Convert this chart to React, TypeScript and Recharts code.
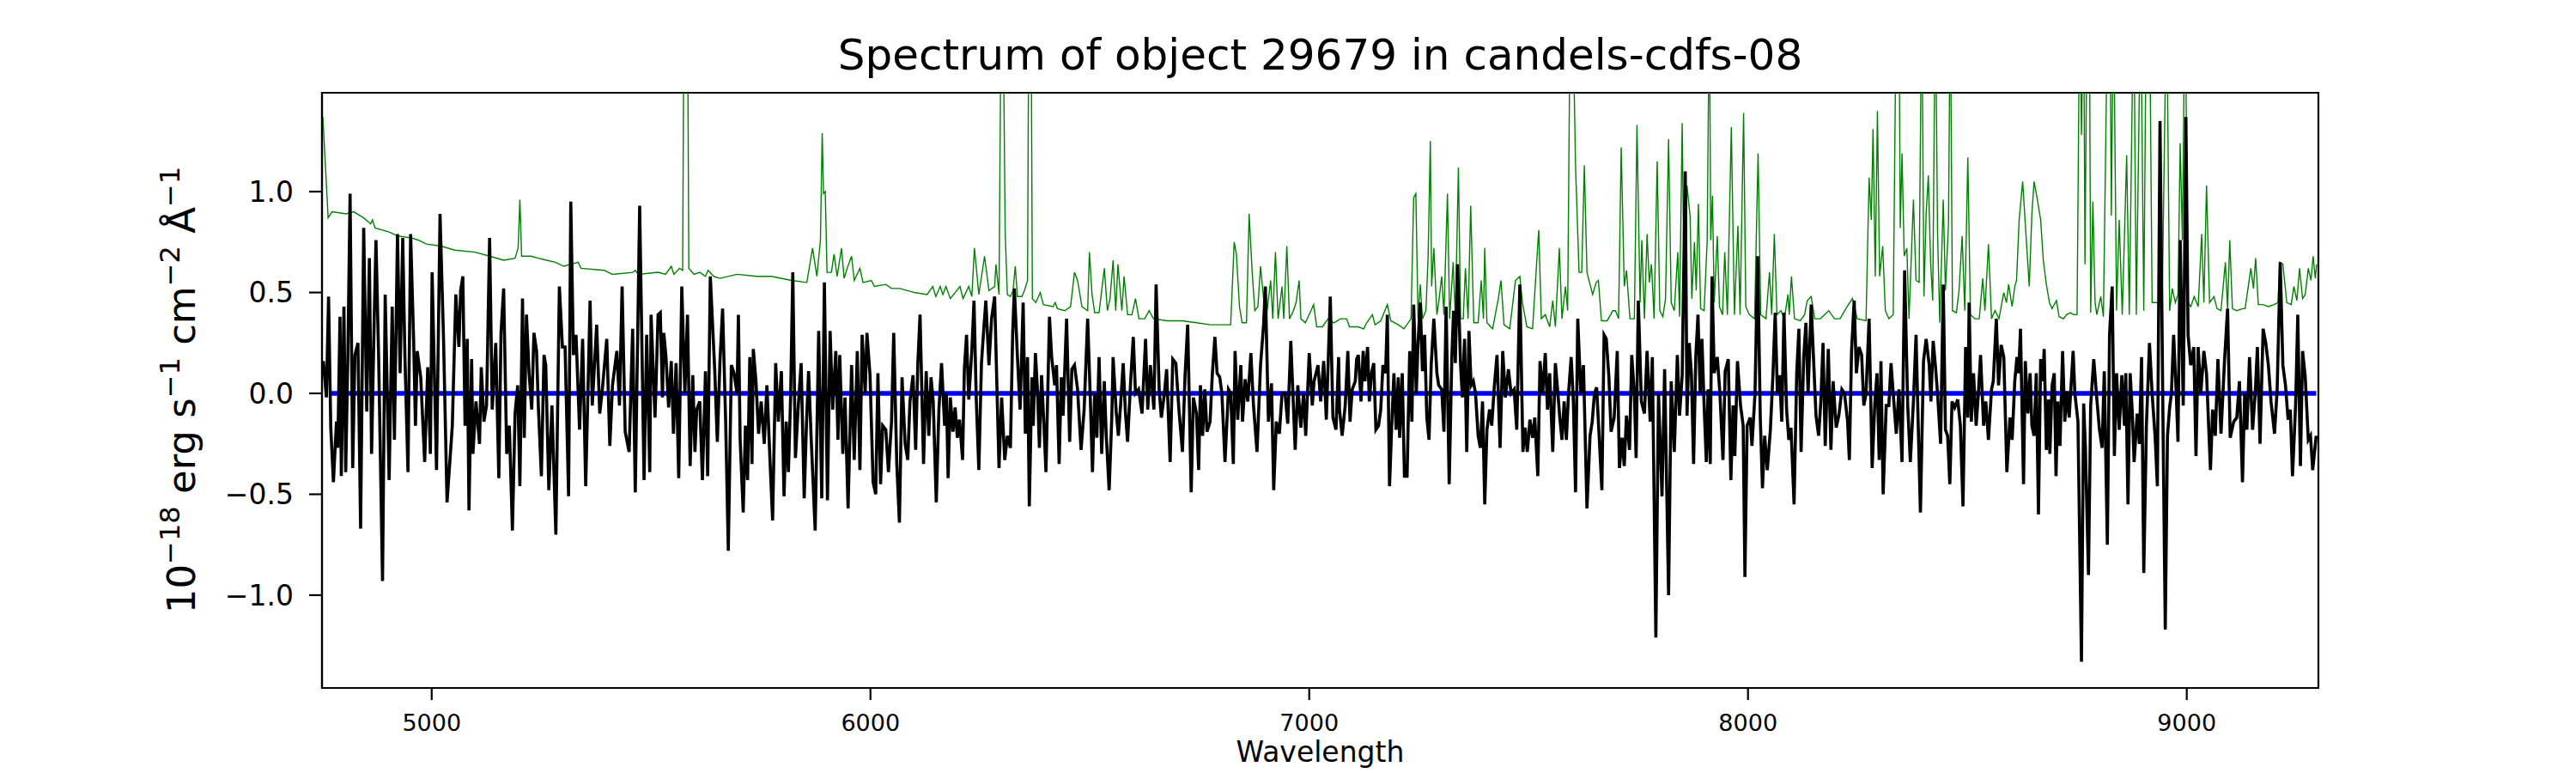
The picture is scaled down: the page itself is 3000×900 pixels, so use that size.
import { LineChart, Line, XAxis, YAxis, ReferenceArea } from 'recharts'

// spectrum flux in pieces of roughly 770 Angstrom
type Pt = [number, number]

const FLUX_A: Pt[] = [
  [4753, 0.16], [4760, -0.02], [4765, 0.48], [4770, -0.17], [4776, -0.44], [4783, -0.14], [4786, -0.27], [4791, 0.38],
  [4794, -0.41], [4800, 0.43], [4804, -0.39], [4809, 0.19], [4814, 0.99], [4820, -0.37], [4825, 0.19], [4832, 0.25],
  [4838, -0.67], [4845, 0.82], [4852, -0.09], [4858, 0.67], [4863, -0.3], [4869, 0.37], [4873, 0.76], [4879, 0.19],
  [4888, -0.93], [4894, 0.49], [4903, -0.43], [4910, 0.43], [4915, -0.23], [4922, 0.79], [4928, 0.1], [4934, 0.77],
  [4939, 0.18], [4946, -0.39], [4952, 0.79], [4959, 0.25], [4963, -0.16], [4967, 0.21], [4975, 0.08], [4984, -0.34],
  [4991, 0.13], [4997, -0.3], [5001, 0.6], [5011, -0.38], [5019, 0.89], [5027, 0.27], [5035, -0.54], [5047, -0.16],
  [5055, 0.49], [5062, 0.23], [5066, 0.51], [5071, 0.58], [5076, -0.16], [5081, 0.27], [5085, -0.58], [5091, 0.17],
  [5094, -0.3], [5101, -0.04], [5109, -0.25], [5113, 0.13], [5119, -0.14], [5125, -0.06], [5132, 0.77], [5138, -0.08],
  [5146, 0.25], [5153, -0.42], [5158, 0.3], [5164, 0.52], [5171, -0.3], [5177, -0.16], [5184, -0.68], [5190, -0.1],
  [5196, 0.04], [5201, -0.46], [5207, 0.47], [5211, -0.22], [5216, 0.39], [5222, 0.1], [5228, -0.08], [5233, 0.3],
  [5239, 0.21], [5243, -0.06], [5250, -0.41], [5256, 0.19], [5260, 0.14], [5267, -0.48], [5274, -0.06], [5283, -0.7],
  [5291, 0.53], [5298, 0.23], [5304, 0.23], [5312, -0.51], [5317, 0.95], [5323, 0.19], [5329, 0.29], [5337, -0.18],
  [5344, 0.27], [5351, -0.46], [5361, 0.46], [5366, -0.06], [5376, 0.34], [5383, -0.1], [5389, 0.02], [5399, 0.27],
  [5406, -0.26], [5412, 0.04], [5422, 0.21], [5428, -0.06], [5434, 0.53], [5441, -0.19], [5450, -0.29], [5458, 0.32],
  [5464, -0.49], [5474, 0.93], [5484, -0.43], [5490, 0.29], [5497, -0.39], [5500, 0.39], [5509, -0.12], [5516, 0.39],
]

const FLUX_B: Pt[] = [
  [5521, 0.4], [5526, -0.02], [5529, 0.3], [5534, 0.18], [5540, -0.07], [5546, 0.16], [5551, -0.2], [5557, 0.15],
  [5563, -0.42], [5570, 0.53], [5577, 0], [5583, 0.39], [5589, -0.36], [5595, 0.09], [5600, -0.29], [5604, -0.08],
  [5611, -0.04], [5617, -0.43], [5624, 0.11], [5629, -0.41], [5635, 0.58], [5640, 0.35], [5645, 0.12], [5651, -0.24],
  [5657, 0.16], [5663, 0.42], [5670, -0.14], [5676, -0.78], [5683, 0.14], [5689, 0.1], [5696, 0], [5699, 0.39],
  [5703, -0.23], [5710, -0.59], [5715, -0.16], [5720, -0.43], [5725, 0.18], [5730, -0.35], [5733, 0.22], [5739, 0.06],
  [5745, -0.2], [5751, -0.04], [5758, -0.25], [5764, 0.04], [5771, -0.33], [5777, -0.63], [5784, 0.15], [5790, -0.14],
  [5797, 0.11], [5803, -0.51], [5808, -0.14], [5813, -0.39], [5818, -0.02], [5823, 0.6], [5829, -0.32], [5835, -0.08],
  [5842, 0.15], [5849, -0.52], [5854, -0.16], [5859, 0.11], [5865, -0.23], [5874, -0.68], [5882, 0.31], [5889, -0.52],
  [5895, 0.55], [5902, -0.53], [5908, 0.31], [5914, -0.08], [5921, 0.21], [5926, -0.23], [5930, 0.19], [5937, -0.3],
  [5942, -0.02], [5949, -0.57], [5957, 0.14], [5963, -0.33], [5970, 0.21], [5976, -0.38], [5981, 0.29], [5988, 0],
  [5992, 0.3], [5999, 0.09], [6006, -0.44], [6012, -0.5], [6017, 0.1], [6023, -0.45], [6028, -0.16], [6035, -0.18],
  [6041, -0.39], [6048, -0.14], [6053, 0.3], [6060, -0.35], [6066, -0.64], [6072, 0.08], [6079, -0.25], [6085, -0.33],
  [6090, -0.04], [6097, 0.09], [6103, -0.28], [6108, 0.15], [6113, 0.39], [6121, -0.35], [6127, 0.11], [6133, -0.21],
  [6138, 0.08], [6143, -0.04], [6150, -0.54], [6156, -0.08], [6162, 0.15], [6169, -0.16], [6173, 0], [6177, -0.42],
  [6182, -0.02], [6188, -0.19], [6193, -0.07], [6198, -0.22], [6203, -0.13], [6210, -0.33], [6214, 0.12], [6219, 0.29],
  [6224, -0.03], [6231, 0.21], [6236, 0.46], [6241, -0.02], [6247, -0.38], [6253, 0.15], [6258, 0.31], [6263, 0.46],
  [6270, 0.14], [6276, 0.37], [6283, 0.48], [6293, -0.37],
]

const FLUX_C: Pt[] = [
  [6299, -0.02], [6306, -0.33], [6312, -0.21], [6319, -0.27], [6324, 0.29], [6328, 0.52], [6335, 0.18], [6341, -0.08],
  [6348, 0.45], [6353, -0.2], [6358, 0.18], [6362, -0.56], [6368, 0.08], [6371, -0.16], [6376, 0.2], [6381, 0],
  [6385, -0.27], [6390, 0.09], [6395, -0.14], [6400, -0.39], [6408, 0.38], [6413, 0.18], [6420, 0.04], [6424, 0.14],
  [6430, -0.35], [6435, 0.08], [6439, -0.11], [6447, 0.37], [6454, -0.24], [6459, 0.12], [6465, 0.14], [6472, 0.02],
  [6480, -0.28], [6487, -0.08], [6495, 0.37], [6501, -0.02], [6506, -0.39], [6511, 0], [6516, -0.22], [6521, 0.18],
  [6527, -0.3], [6533, 0.06], [6537, -0.19], [6544, -0.48], [6550, -0.12], [6553, 0.18], [6560, -0.09], [6565, -0.21],
  [6570, -0.06], [6576, 0.15], [6581, -0.09], [6586, -0.24], [6593, 0.06], [6599, 0.28], [6604, 0], [6611, 0.02],
  [6619, -0.1], [6627, 0.27], [6632, -0.08], [6638, 0.14], [6646, -0.08], [6651, 0.54], [6658, 0.02], [6663, -0.12],
  [6670, 0], [6675, 0.12], [6683, -0.34], [6689, 0.17], [6696, 0.15], [6703, -0.08], [6711, -0.29], [6717, 0.09],
  [6723, 0.34], [6731, -0.49], [6736, -0.02], [6743, -0.1], [6748, -0.38], [6752, 0.04], [6757, -0.21], [6762, 0.02],
  [6767, -0.19], [6774, -0.14], [6779, 0.09], [6785, 0.28], [6790, 0.1], [6796, 0.08], [6801, 0], [6808, -0.34],
  [6816, 0.02], [6821, 0], [6827, -0.35], [6831, 0.21], [6837, -0.13], [6844, 0.14], [6848, -0.14], [6854, 0.07],
  [6860, -0.04], [6867, 0.2], [6873, -0.06], [6881, -0.29], [6889, 0.14], [6896, 0.34], [6900, 0.53], [6907, -0.14],
  [6914, 0.05], [6919, -0.48], [6925, -0.14], [6932, -0.2], [6938, 0], [6945, 0], [6951, -0.15], [6958, 0.26],
  [6968, -0.28], [6974, 0.04], [6981, -0.17], [6987, 0], [6992, -0.21], [7000, 0.2], [7007, -0.06], [7011, 0.06],
  [7020, 0.14], [7026, -0.04], [7033, 0.16], [7039, -0.13], [7048, 0.48], [7054, -0.12], [7061, -0.18], [7067, 0.18],
]

const FLUX_D: Pt[] = [
  [7069, -0.08], [7075, -0.21], [7082, -0.06], [7088, 0.21], [7093, -0.14], [7098, 0.02], [7105, 0.06], [7108, 0.17],
  [7112, 0.19], [7118, -0.04], [7123, 0.21], [7127, 0.06], [7133, 0.23], [7137, -0.04], [7142, 0.1], [7147, 0.15],
  [7152, -0.18], [7158, -0.16], [7163, -0.08], [7168, 0.14], [7174, 0.1], [7178, 0.39], [7183, -0.46], [7188, -0.16],
  [7193, 0.1], [7198, -0.18], [7203, 0.08], [7206, -0.22], [7212, 0.1], [7217, -0.41], [7223, -0.41], [7229, 0.21],
  [7234, -0.14], [7238, 0.44], [7244, 0], [7248, 0.25], [7253, 0.45], [7258, 0.11], [7263, 0.29], [7268, -0.12],
  [7273, -0.23], [7278, 0.14], [7284, 0.37], [7291, 0.1], [7295, 0.04], [7302, 0.02], [7307, -0.19], [7312, 0.43],
  [7319, -0.45], [7325, 0.18], [7329, 0.41], [7333, 0.15], [7338, 0.64], [7345, 0.14], [7349, -0.02], [7354, 0.27],
  [7359, -0.29], [7364, 0.31], [7369, 0.04], [7374, 0.06], [7379, 0], [7385, -0.21], [7390, -0.27], [7395, -0.04],
  [7400, -0.55], [7405, -0.18], [7411, -0.08], [7416, -0.16], [7422, 0.04], [7428, 0.19], [7435, -0.27], [7441, 0.21],
  [7447, -0.02], [7454, 0.12], [7460, 0], [7467, 0.02], [7473, -0.18], [7480, 0.54], [7487, -0.29], [7492, -0.17],
  [7497, -0.29], [7503, -0.13], [7509, -0.22], [7514, -0.12], [7521, -0.41], [7526, 0.16], [7532, 0], [7538, 0.2],
  [7543, -0.08], [7548, 0.1], [7555, -0.29], [7561, 0.15], [7566, 0.02], [7571, -0.12], [7576, -0.23], [7581, -0.04],
  [7586, -0.23], [7591, 0], [7597, 0.18], [7602, -0.04], [7607, -0.49], [7612, 0.37], [7619, 0], [7625, 0.14],
  [7633, -0.57], [7640, -0.21], [7645, -0.14], [7650, 0], [7655, 0.03], [7660, -0.18], [7667, -0.48], [7672, 0.29],
  [7677, 0.27], [7683, 0.08], [7688, -0.19], [7695, -0.12], [7702, 0.21], [7707, -0.37], [7713, -0.22], [7718, -0.36],
  [7723, -0.11], [7730, -0.28], [7735, 0.19], [7741, 0], [7745, -0.32], [7750, 0.46], [7757, -0.04], [7764, -0.1],
  [7770, 0.21], [7777, -0.14], [7782, 0.18], [7790, -1.21], [7796, 0], [7804, -0.51], [7810, 0.12], [7819, -1.0],
  [7825, 0.06], [7832, -0.29], [7839, 0.19],
]

const FLUX_E: Pt[] = [
  [7844, -0.11], [7850, 0.09], [7857, 1.1], [7861, -0.11], [7866, 0.25], [7871, 0.1], [7876, -0.35], [7881, 0.18],
  [7886, 0.39], [7891, 0], [7895, 0.27], [7900, -0.06], [7905, -0.34], [7909, 0.02], [7914, -0.35], [7918, 0.58],
  [7923, 0.1], [7930, 0.18], [7936, 0], [7943, -0.33], [7948, 0.11], [7955, 0.17], [7961, -0.43], [7966, -0.06],
  [7970, -0.31], [7976, 0.16], [7983, -0.06], [7989, -0.16], [7993, -0.91], [7998, -0.16], [8005, -0.12], [8009, -0.26],
  [8016, 0], [8022, 0.68], [8028, -0.12], [8033, -0.47], [8038, -0.21], [8044, -0.38], [8051, -0.18], [8057, 0.1],
  [8062, 0.4], [8067, 0], [8072, 0.09], [8077, -0.14], [8082, 0.4], [8088, -0.08], [8093, -0.23], [8098, -0.17],
  [8105, -0.55], [8111, 0.1], [8116, 0.32], [8121, -0.29], [8127, 0.18], [8132, 0.35], [8137, 0], [8144, 0.44],
  [8150, 0.14], [8155, -0.11], [8161, -0.21], [8166, -0.04], [8171, 0.25], [8176, -0.26], [8183, 0.22], [8189, -0.28],
  [8194, 0.06], [8201, -0.17], [8207, -0.11], [8214, 0.02], [8220, 0], [8227, -0.14], [8231, -0.33], [8236, 0.21],
  [8242, 0.46], [8247, 0.1], [8253, 0.23], [8259, 0.19], [8264, -0.06], [8269, 0], [8276, 0.37], [8283, -0.37],
  [8289, -0.05], [8294, 0.1], [8299, -0.33], [8303, 0.16], [8308, -0.5], [8315, -0.06], [8321, -0.06], [8326, 0.15],
  [8333, -0.06], [8338, -0.2], [8344, 0.02], [8351, -0.34], [8357, 0.61], [8364, -0.06], [8370, -0.34], [8377, -0.04],
  [8383, 0.29], [8388, -0.16], [8393, -0.59], [8400, 0.16], [8406, 0.27], [8413, 0.14], [8417, -0.04], [8422, 0.26],
  [8427, 0.14], [8432, 0], [8439, -0.25], [8445, 0.54], [8450, -0.18], [8455, -0.21], [8460, -0.45], [8465, -0.04],
  [8471, -0.07], [8478, -0.03], [8484, -0.16], [8490, -0.56], [8496, 0.23], [8501, -0.12], [8504, 0.45], [8509, -0.14],
  [8514, 0.1], [8520, -0.16], [8525, 0], [8530, 0.19], [8537, -0.16], [8542, -0.04], [8548, -0.23], [8555, 0.02],
  [8559, 0.06], [8566, 0.37], [8571, 0.04], [8577, 0.24], [8583, 0.18], [8590, -0.39], [8597, -0.12], [8602, -0.23],
  [8608, 0.06], [8613, 0.18],
]

const FLUX_F: Pt[] = [
  [8617, 0.1], [8621, 0.32], [8628, -0.45], [8632, 0.16], [8638, -0.1], [8643, 0.1], [8647, -0.16], [8652, -0.21],
  [8657, 0.1], [8662, -0.6], [8667, 0.17], [8672, 0.06], [8675, 0.22], [8680, -0.28], [8685, -0.03], [8688, -0.3],
  [8693, 0.04], [8698, 0.1], [8702, -0.41], [8706, -0.04], [8711, -0.26], [8717, 0.21], [8722, -0.14], [8727, 0.01],
  [8732, -0.12], [8741, 0.21], [8745, 0], [8752, -0.14], [8760, -1.33], [8765, -0.05], [8769, -0.27], [8776, -0.9],
  [8781, -0.06], [8788, 0.17], [8794, 0], [8801, -0.18], [8807, -0.27], [8812, 0.11], [8819, -0.75], [8824, 0.29],
  [8830, 0.53], [8835, -0.31], [8840, 0.1], [8846, -0.18], [8852, 0.09], [8858, -0.16], [8861, 0.1], [8866, -0.55],
  [8871, 0.1], [8876, -0.1], [8880, -0.34], [8887, -0.1], [8892, -0.25], [8897, 0.18], [8902, -0.89], [8908, -0.16],
  [8915, 0.25], [8921, 0], [8928, -0.22], [8933, -0.46], [8939, 1.35], [8946, -0.18], [8951, -1.17], [8956, -0.21],
  [8961, -0.07], [8965, 0], [8970, 0.29], [8976, 0], [8980, -0.24], [8985, 0.76], [8992, -0.06], [8998, 1.37],
  [9003, 0.29], [9009, 0.14], [9016, 0.23], [9021, -0.31], [9026, 0.23], [9032, 0], [9039, 0.21], [9045, 0.1],
  [9054, -0.38], [9059, -0.08], [9065, -0.21], [9071, 0.17], [9078, -0.2], [9086, 0.16], [9093, 0.42], [9099, -0.22],
  [9107, -0.14], [9114, -0.12], [9120, 0.06], [9127, -0.44], [9132, 0], [9137, -0.18], [9143, 0.18], [9150, -0.18],
  [9156, 0], [9161, 0.23], [9167, -0.25], [9174, 0.32], [9180, 0.25], [9186, 0.14], [9192, -0.04], [9200, -0.2],
  [9206, 0.02], [9213, 0.65], [9219, 0.14], [9225, 0.04], [9231, -0.13], [9236, -0.08], [9241, -0.41], [9248, -0.06],
  [9253, 0.39], [9259, -0.36], [9264, 0.21], [9270, 0.08], [9277, -0.23], [9282, -0.21], [9287, -0.38], [9295, -0.21],
]

// error spectrum (green); 2.0 marks lines that run off the top of the panel
const ERR_A: Pt[] = [
  [4752, 1.37], [4764, 0.87], [4773, 0.9], [4805, 0.89], [4822, 0.9], [4845, 0.87], [4861, 0.84], [4865, 0.86],
  [4871, 0.82], [4903, 0.8], [4923, 0.78], [4955, 0.77], [4969, 0.76], [4988, 0.74], [5021, 0.73], [5053, 0.71],
  [5099, 0.7], [5132, 0.68], [5164, 0.66], [5190, 0.67], [5197, 0.72], [5201, 0.96], [5205, 0.68], [5226, 0.68],
  [5243, 0.67], [5262, 0.66], [5282, 0.65], [5301, 0.63], [5334, 0.65], [5340, 0.62], [5393, 0.61], [5412, 0.59],
  [5458, 0.6], [5464, 0.61], [5471, 0.59], [5516, 0.6],
]

const ERR_B: Pt[] = [
  [5533, 0.59], [5546, 0.63], [5552, 0.59], [5565, 0.62], [5572, 0.61], [5575, 2.0], [5578, 2.0], [5583, 2.0],
  [5586, 0.62], [5598, 0.59], [5611, 0.6], [5624, 0.58], [5630, 0.61], [5643, 0.58], [5657, 0.57], [5696, 0.59],
  [5741, 0.58], [5774, 0.58], [5820, 0.56], [5855, 0.55], [5868, 0.72], [5878, 0.58], [5886, 0.76], [5890, 1.29],
  [5893, 0.99], [5897, 1.0], [5901, 0.6], [5911, 0.6], [5917, 0.69], [5924, 0.58], [5934, 0.72], [5940, 0.57],
  [5947, 0.62], [5957, 0.68], [5963, 0.56], [5976, 0.62], [5983, 0.55], [6002, 0.56], [6009, 0.53], [6035, 0.54],
  [6048, 0.52], [6067, 0.52], [6100, 0.5], [6129, 0.49], [6142, 0.53], [6149, 0.48], [6159, 0.53], [6165, 0.49],
  [6172, 0.53], [6182, 0.47], [6204, 0.53], [6211, 0.47], [6224, 0.53], [6231, 0.48], [6237, 0.72], [6247, 0.49],
  [6260, 0.68], [6270, 0.51], [6283, 0.53],
]

const ERR_C: Pt[] = [
  [6286, 0.64], [6293, 0.49], [6298, 2.0], [6302, 2.0], [6307, 0.8], [6312, 0.49], [6319, 0.48], [6325, 0.51],
  [6330, 0.63], [6335, 0.48], [6345, 0.48], [6351, 0.51], [6358, 0.56], [6361, 2.0], [6366, 2.0], [6369, 0.47],
  [6377, 0.45], [6387, 0.5], [6394, 0.44], [6416, 0.43], [6421, 0.45], [6426, 0.42], [6443, 0.41], [6456, 0.43],
  [6465, 0.6], [6472, 0.56], [6482, 0.43], [6495, 0.41], [6499, 0.7], [6505, 0.49], [6511, 0.4], [6521, 0.4],
  [6533, 0.62], [6540, 0.41], [6546, 0.47], [6553, 0.66], [6559, 0.41], [6564, 0.64], [6573, 0.41], [6578, 0.58],
  [6586, 0.39], [6596, 0.39], [6604, 0.47], [6612, 0.37], [6625, 0.37], [6635, 0.41], [6645, 0.37], [6677, 0.36],
  [6710, 0.36], [6743, 0.35], [6775, 0.34], [6788, 0.34], [6808, 0.34], [6821, 0.34], [6829, 0.75], [6834, 0.69],
  [6841, 0.43], [6847, 0.35], [6857, 0.35], [6863, 0.89], [6870, 0.6], [6876, 0.41], [6883, 0.43], [6889, 0.63],
  [6896, 0.47], [6902, 0.37], [6912, 0.56], [6917, 0.37], [6923, 0.7], [6929, 0.37], [6938, 0.53], [6942, 0.37],
  [6949, 0.73], [6955, 0.37], [6964, 0.41], [6970, 0.45], [6977, 0.56], [6981, 0.37], [6991, 0.35], [7004, 0.41],
  [7010, 0.44], [7017, 0.33], [7030, 0.33], [7043, 0.37], [7056, 0.35],
]

const ERR_D: Pt[] = [
  [7072, 0.37], [7085, 0.37], [7092, 0.33], [7111, 0.33], [7124, 0.32], [7131, 0.35], [7144, 0.39], [7150, 0.34],
  [7163, 0.36], [7178, 0.44], [7186, 0.36], [7203, 0.34], [7216, 0.32], [7232, 0.37], [7238, 0.97], [7243, 0.99],
  [7248, 0.37], [7253, 0.54], [7258, 0.37], [7266, 0.41], [7271, 0.68], [7276, 1.25], [7279, 0.53], [7284, 0.72],
  [7291, 0.39], [7295, 0.45], [7302, 0.58], [7307, 0.39], [7315, 0.99], [7320, 0.37], [7328, 0.65], [7333, 0.38],
  [7340, 1.12], [7345, 0.37], [7351, 0.37], [7356, 0.62], [7362, 0.37], [7368, 0.93], [7375, 0.35], [7385, 0.35],
  [7392, 0.56], [7397, 0.37], [7400, 0.72], [7405, 0.35], [7418, 0.32], [7431, 0.47], [7437, 0.56], [7444, 0.34],
  [7457, 0.32], [7470, 0.56], [7480, 0.58], [7486, 0.45], [7496, 0.33], [7509, 0.32], [7523, 0.81], [7529, 0.37],
  [7538, 0.39], [7548, 0.33], [7555, 0.46], [7561, 0.33], [7570, 0.72], [7576, 0.37], [7584, 0.53], [7589, 0.41],
  [7595, 2.0], [7600, 2.0], [7607, 1.12], [7615, 0.6], [7621, 0.6], [7627, 1.13], [7633, 0.6], [7646, 0.49],
  [7654, 0.55], [7659, 0.56], [7666, 0.36], [7679, 0.36], [7692, 0.41], [7698, 0.41], [7705, 0.37], [7711, 1.22],
  [7718, 0.53], [7723, 0.61], [7731, 0.37], [7741, 0.37], [7747, 1.33], [7754, 0.45], [7758, 0.76], [7764, 0.37],
  [7770, 0.79], [7775, 0.55], [7780, 0.64], [7786, 0.37], [7793, 1.15], [7799, 0.41], [7806, 0.38], [7812, 0.47],
  [7819, 1.26], [7825, 0.45], [7832, 0.41], [7840, 0.7],
]

const ERR_E: Pt[] = [
  [7844, 0.38], [7850, 1.34], [7855, 0.39], [7861, 1.03], [7868, 0.88], [7872, 0.47], [7878, 0.75], [7882, 0.51],
  [7887, 0.94], [7892, 0.42], [7900, 0.41], [7907, 0.76], [7912, 2.0], [7915, 0.76], [7919, 0.98], [7923, 0.45],
  [7930, 0.78], [7935, 0.43], [7942, 0.39], [7947, 0.7], [7953, 0.39], [7962, 1.32], [7969, 0.39], [7977, 0.83],
  [7982, 0.39], [7990, 1.39], [7995, 0.43], [8003, 0.39], [8015, 0.37], [8023, 1.19], [8029, 0.39], [8041, 0.37],
  [8049, 0.6], [8054, 0.39], [8060, 0.79], [8066, 0.39], [8075, 0.41], [8083, 0.37], [8091, 0.49], [8094, 0.39],
  [8099, 0.58], [8106, 0.37], [8119, 0.36], [8129, 0.39], [8135, 0.46], [8144, 0.48], [8152, 0.37], [8165, 0.37],
  [8184, 0.41], [8197, 0.37], [8210, 0.37], [8223, 0.42], [8238, 0.47], [8249, 0.37], [8269, 0.36], [8276, 1.07],
  [8281, 0.86], [8285, 1.31], [8290, 0.58], [8295, 1.4], [8300, 0.58], [8307, 0.73], [8313, 0.41], [8321, 0.37],
  [8331, 0.39], [8338, 2.0], [8344, 2.0], [8347, 0.82], [8351, 1.19], [8356, 0.68], [8362, 0.72], [8367, 0.37],
  [8377, 0.96], [8383, 0.56], [8390, 0.55], [8396, 2.0], [8401, 0.48], [8406, 0.89], [8411, 1.08], [8416, 0.66],
  [8421, 0.46], [8427, 2.0], [8432, 0.8], [8437, 0.35], [8445, 0.96], [8450, 0.51], [8457, 0.84], [8461, 2.0],
  [8466, 0.41], [8475, 0.4], [8481, 0.51], [8488, 0.78], [8494, 0.41], [8501, 1.17], [8507, 0.39], [8517, 0.37],
  [8527, 0.37], [8535, 0.57], [8540, 0.41], [8548, 0.74], [8555, 0.37], [8563, 0.41], [8572, 0.37], [8583, 0.5],
  [8589, 0.45], [8594, 0.54], [8602, 0.43], [8608, 0.53],
]

const ERR_F: Pt[] = [
  [8612, 0.56], [8618, 0.86], [8626, 1.05], [8632, 0.84], [8641, 0.53], [8647, 0.89], [8652, 1.05], [8658, 0.98],
  [8667, 0.86], [8673, 0.66], [8680, 0.54], [8687, 0.45], [8693, 0.42], [8703, 0.46], [8709, 0.38], [8719, 0.37],
  [8726, 0.39], [8735, 0.4], [8742, 0.39], [8750, 0.39], [8756, 2.0], [8760, 1.28], [8765, 2.0], [8768, 0.64],
  [8773, 2.0], [8778, 2.0], [8781, 0.4], [8786, 0.95], [8791, 0.45], [8795, 0.39], [8804, 0.48], [8810, 0.38],
  [8820, 2.0], [8825, 2.0], [8828, 0.88], [8833, 2.0], [8840, 0.41], [8846, 0.86], [8853, 0.39], [8863, 1.18],
  [8869, 0.39], [8879, 2.0], [8885, 0.39], [8895, 2.0], [8902, 0.41], [8908, 2.0], [8915, 2.0], [8921, 0.45],
  [8928, 0.45], [8938, 0.45], [8944, 0.45], [8954, 2.0], [8961, 0.41], [8967, 0.52], [8974, 0.45], [8980, 0.49],
  [8985, 1.24], [8990, 0.76], [8996, 2.0], [9003, 0.45], [9009, 0.43], [9017, 0.48], [9026, 0.43], [9034, 0.79],
  [9039, 0.45], [9045, 1.03], [9052, 0.45], [9062, 0.48], [9069, 0.42], [9078, 0.41], [9088, 0.65], [9093, 0.42],
  [9098, 0.76], [9104, 0.42], [9114, 0.41], [9127, 0.42], [9133, 0.42], [9146, 0.62], [9152, 0.52], [9157, 0.67],
  [9163, 0.44], [9173, 0.44], [9186, 0.43], [9199, 0.44], [9208, 0.45], [9212, 0.65], [9219, 0.64], [9228, 0.45],
  [9238, 0.44], [9244, 0.53], [9251, 0.46], [9257, 0.62], [9264, 0.47], [9270, 0.49], [9277, 0.62], [9283, 0.56],
  [9288, 0.68], [9293, 0.57], [9296, 0.64],
]

const ZERO_LINE: Pt[] = [[4768, 0], [9295, 0]]

const X_TICKS = [5000, 6000, 7000, 8000, 9000]
const Y_TICKS = [-1.0, -0.5, 0.0, 0.5, 1.0]
const X_DOMAIN: [number, number] = [4750, 9300]
const Y_DOMAIN: [number, number] = [-1.46, 1.49]

const toRows = (pts: Pt[]) => pts.map(([w, f]) => ({ w, f }))

const flux = toRows([...FLUX_A, ...FLUX_B, ...FLUX_C, ...FLUX_D, ...FLUX_E, ...FLUX_F])
const err = toRows([...ERR_A, ...ERR_B, ...ERR_C, ...ERR_D, ...ERR_E, ...ERR_F])
const zero = toRows(ZERO_LINE)

const FONT = '"DejaVu Sans", sans-serif'

const fmtY = (v: number) => (v < 0 ? '\u2212' + Math.abs(v).toFixed(1) : v.toFixed(1))

export default function App() {
  return (
    <div style={{ position: 'absolute', left: 0, top: 0, width: 3000, height: 900, background: '#fff' }}>
      <LineChart width={3000} height={900} margin={{ top: 108, right: 300, bottom: 39, left: 275 }}>
        <XAxis
          type="number"
          dataKey="w"
          domain={X_DOMAIN}
          ticks={X_TICKS}
          allowDataOverflow
          height={60}
          axisLine={{ stroke: '#000', strokeWidth: 2.2 }}
          tickLine={{ stroke: '#000', strokeWidth: 2.2 }}
          tickSize={14}
          tickMargin={17}
          tick={{ fill: '#000', fontSize: 27, fontFamily: FONT }}
        />
        <YAxis
          type="number"
          dataKey="f"
          domain={Y_DOMAIN}
          ticks={Y_TICKS}
          allowDataOverflow
          width={100}
          tickFormatter={fmtY}
          axisLine={{ stroke: '#000', strokeWidth: 2.2 }}
          tickLine={{ stroke: '#000', strokeWidth: 2.2 }}
          tickSize={15}
          tickMargin={18}
          tick={{ fill: '#000', fontSize: 33, fontFamily: FONT }}
        />
        <Line data={zero} dataKey="f" stroke="#0000ff" strokeWidth={5.5} dot={false} isAnimationActive={false} />
        <Line data={err} dataKey="f" stroke="#008000" strokeWidth={1.4} dot={false} isAnimationActive={false} />
        <Line data={flux} dataKey="f" stroke="#000" strokeWidth={3.6} dot={false} isAnimationActive={false} />
        <ReferenceArea
          x1={X_DOMAIN[0]}
          x2={X_DOMAIN[1]}
          y1={Y_DOMAIN[0]}
          y2={Y_DOMAIN[1]}
          fill="none"
          stroke="#000"
          strokeWidth={2.2}
          ifOverflow="visible"
        />
      </LineChart>
      <svg
        width={3000}
        height={900}
        style={{ position: 'absolute', left: 0, top: 0, pointerEvents: 'none' }}
        fontFamily={FONT}
      >
        <text x={1537.5} y={81} textAnchor="middle" fontSize={50} fill="#000">
          Spectrum of object 29679 in candels-cdfs-08
        </text>
        <text x={1537.5} y={887} textAnchor="middle" fontSize={33} fill="#000">
          Wavelength
        </text>
        <text
          transform="translate(227,454) rotate(-90)"
          textAnchor="middle"
          fontSize={45}
          fill="#000"
          style={{ whiteSpace: 'pre' }}
        >
          <tspan>10</tspan>
          <tspan dy={-18} fontSize={32}>{'\u221218'}</tspan>
          <tspan dy={18}>{' erg s'}</tspan>
          <tspan dy={-18} fontSize={32}>{'\u22121'}</tspan>
          <tspan dy={18}>{' cm'}</tspan>
          <tspan dy={-18} fontSize={32}>{'\u22122'}</tspan>
          <tspan dy={18}>{' \u00c5'}</tspan>
          <tspan dy={-18} fontSize={32}>{'\u22121'}</tspan>
        </text>
      </svg>
    </div>
  )
}
